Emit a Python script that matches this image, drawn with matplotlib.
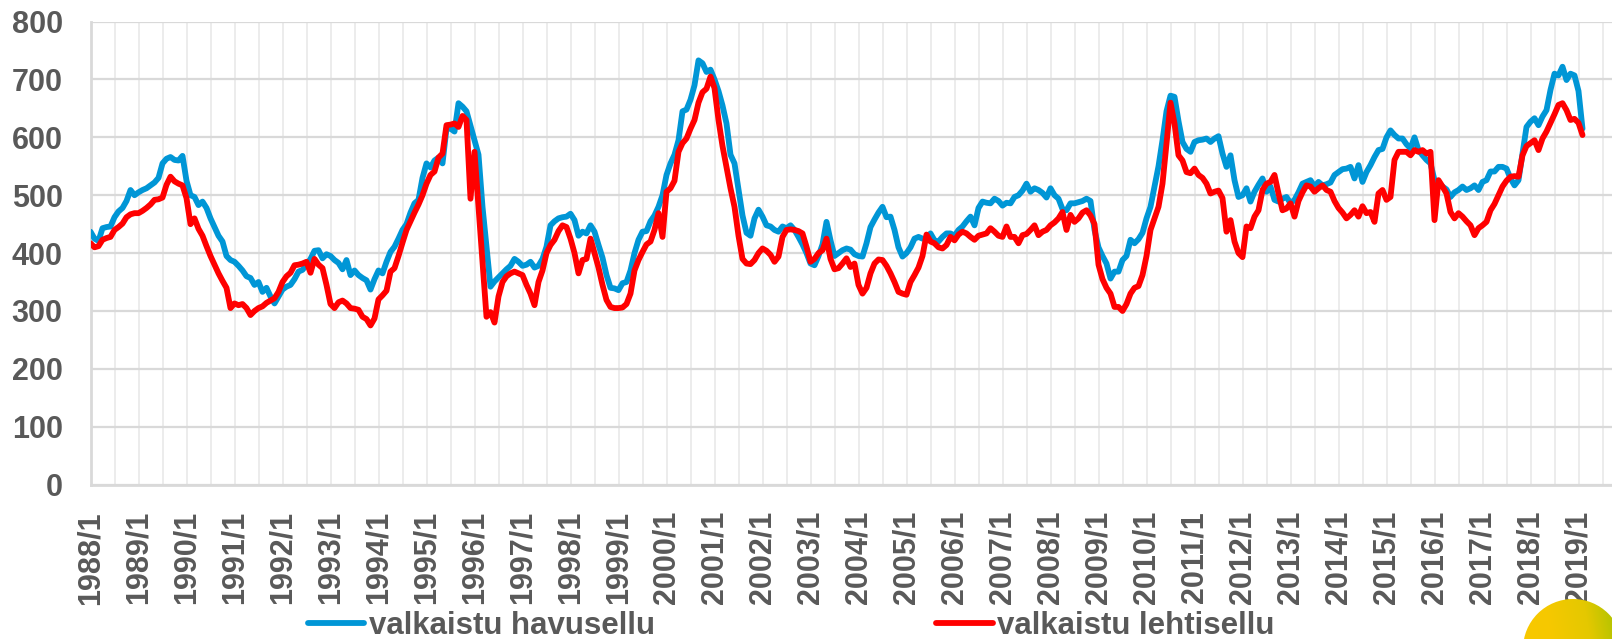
#!/usr/bin/env python3
"""Monthly pulp prices 1988-2019: bleached softwood vs. bleached hardwood."""

import matplotlib

matplotlib.use("Agg")
import matplotlib.pyplot as plt
import numpy as np
from matplotlib.colors import LinearSegmentedColormap
from matplotlib.lines import Line2D
from matplotlib.patches import Circle

# monthly values from 1988/1 onwards, one row per year
havusellu = [
    437, 425, 421, 443, 445, 446, 462, 472, 478, 490, 509, 500,  # 1988
    505, 509, 512, 517, 522, 530, 555, 563, 566, 561, 560, 568,  # 1989
    525, 500, 497, 483, 489, 478, 460, 445, 430, 420, 395, 388,  # 1990
    385, 378, 370, 360, 357, 345, 350, 333, 340, 325, 313, 325,  # 1991
    337, 342, 345, 355, 368, 371, 380, 390, 404, 405, 391, 398,  # 1992
    395, 388, 383, 372, 388, 362, 370, 362, 357, 353, 337, 355,  # 1993
    370, 365, 385, 402, 411, 425, 440, 450, 470, 486, 492, 530,  # 1994
    555, 548, 560, 565, 555, 615, 615, 610, 659, 653, 645, 620,  # 1995
    595, 570, 480, 411, 342, 351, 358, 365, 372, 378, 390, 385,  # 1996
    378, 380, 385, 375, 378, 390, 411, 448, 455, 460, 462, 463,  # 1997
    468, 457, 430, 437, 434, 448, 437, 414, 392, 362, 340, 339,  # 1998
    336, 348, 350, 370, 400, 423, 437, 438, 455, 465, 480, 500,  # 1999
    535, 555, 570, 595, 645, 648, 665, 690, 733, 728, 713, 717,  # 2000
    700, 680, 655, 624, 570, 555, 510, 465, 435, 430, 460, 475,  # 2001
    463, 448, 446, 440, 437, 446, 443, 448, 440, 428, 415, 400,  # 2002
    382, 379, 395, 415, 454, 422, 395, 400, 405, 408, 406, 398,  # 2003
    395, 394, 417, 445, 458, 470, 480, 462, 463, 440, 410, 394,  # 2004
    400, 410, 425, 428, 425, 425, 434, 422, 420, 428, 434, 434,  # 2005
    430, 440, 446, 455, 463, 448, 478, 489, 487, 486, 494, 490,  # 2006
    482, 487, 486, 497, 500, 508, 520, 506, 512, 509, 504, 496,  # 2007
    512, 500, 494, 476, 474, 486, 486, 488, 490, 494, 490, 440,  # 2008
    410, 395, 382, 356, 368, 368, 388, 395, 423, 417, 424, 435,  # 2009
    460, 480, 515, 550, 595, 645, 672, 670, 628, 592, 580, 575,  # 2010
    592, 595, 596, 598, 592, 598, 602, 572, 549, 569, 526, 497,  # 2011
    500, 512, 489, 506, 518, 529, 506, 515, 492, 489, 494, 497,  # 2012
    486, 492, 505, 520, 523, 526, 515, 523, 517, 519, 522, 535,  # 2013
    540, 545, 546, 549, 529, 552, 523, 540, 552, 566, 578, 580,  # 2014
    600, 612, 604, 598, 598, 588, 581, 600, 578, 569, 561, 555,  # 2015
    526, 523, 515, 510, 497, 505, 509, 515, 509, 512, 517, 509,  # 2016
    523, 526, 541, 541, 549, 549, 546, 529, 517, 526, 572, 618,  # 2017
    627, 633, 621, 636, 647, 682, 710, 707, 722, 699, 710, 707,  # 2018
    680, 615,                                                    # 2019
]

lehtisellu = [
    417, 410, 412, 423, 426, 428, 440, 445, 451, 462, 467, 469,  # 1988
    469, 473, 478, 484, 492, 493, 496, 518, 532, 524, 520, 517,  # 1989
    495, 450, 460, 442, 430, 412, 395, 380, 365, 352, 340, 305,  # 1990
    313, 310, 312, 305, 293, 300, 305, 308, 314, 318, 322, 333,  # 1991
    350, 360, 366, 379, 380, 382, 385, 366, 390, 380, 374, 345,  # 1992
    312, 305, 315, 318, 313, 305, 304, 302, 290, 286, 275, 287,  # 1993
    320, 327, 335, 368, 374, 395, 418, 440, 455, 470, 484, 500,  # 1994
    520, 535, 541, 565, 572, 621, 622, 624, 618, 637, 630, 494,  # 1995
    575, 480, 385, 290, 298, 280, 325, 350, 360, 365, 368, 365,  # 1996
    362, 345, 330, 310, 350, 370, 400, 414, 423, 438, 448, 445,  # 1997
    425, 400, 365, 388, 390, 425, 400, 375, 345, 319, 307, 305,  # 1998
    305, 306, 312, 330, 370, 388, 402, 415, 420, 440, 469, 428,  # 1999
    506, 512, 525, 575, 590, 598, 615, 630, 660, 678, 684, 705,  # 2000
    685, 630, 585, 549, 512, 480, 430, 390, 382, 381, 388, 400,  # 2001
    408, 404, 397, 385, 394, 428, 440, 441, 440, 438, 434, 411,  # 2002
    385, 390, 400, 405, 425, 390, 372, 374, 382, 391, 376, 382,  # 2003
    345, 330, 340, 365, 382, 389, 388, 378, 365, 350, 333, 330,  # 2004
    328, 350, 362, 375, 395, 432, 420, 417, 410, 408, 414, 428,  # 2005
    422, 432, 437, 434, 428, 423, 430, 432, 434, 443, 437, 430,  # 2006
    428, 446, 428, 428, 417, 431, 433, 440, 448, 431, 437, 440,  # 2007
    448, 453, 460, 471, 440, 466, 454, 460, 470, 474, 465, 450,  # 2008
    380, 355, 340, 330, 307, 307, 300, 312, 330, 340, 343, 362,  # 2009
    395, 440, 460, 480, 520, 589, 660, 624, 569, 560, 540, 538,  # 2010
    546, 535, 530, 520, 503, 506, 508, 495, 437, 457, 420, 400,  # 2011
    393, 446, 443, 463, 474, 509, 520, 523, 535, 503, 474, 477,  # 2012
    486, 463, 490, 505, 517, 515, 506, 512, 517, 509, 506, 490,  # 2013
    478, 470, 460, 466, 474, 463, 481, 469, 471, 454, 503, 509,  # 2014
    492, 497, 561, 575, 575, 575, 569, 578, 575, 578, 572, 575,  # 2015
    457, 526, 515, 503, 471, 460, 469, 463, 455, 448, 431, 443,  # 2016
    448, 454, 474, 485, 500, 515, 525, 532, 533, 532, 569, 585,  # 2017
    590, 595, 578, 598, 610, 625, 640, 656, 659, 647, 630, 632,  # 2018
    625, 604,                                                    # 2019
]

years = list(range(1988, 2020))
tick_labels = [f"{y}/1" for y in years]
y_ticks = [0, 100, 200, 300, 400, 500, 600, 700, 800]
series_names = ["valkaistu havusellu", "valkaistu lehtisellu"]

BLUE = "#0096D6"
RED = "#FF0000"
TEXT = "#595959"
GRID_H = "#D9D9D9"
GRID_V = "#EBEBEB"
LINE_W = 4.2

W, H = 1612, 639
X0, Y0, Y800 = 90.5, 484.6, 21.6   # pixel positions of 1988/1, 0 and 800
PX_MONTH = 4.0


def main() -> None:
    plt.rcParams["font.family"] = ["Liberation Sans", "DejaVu Sans"]
    fig = plt.figure(figsize=(W / 100, H / 100), dpi=100)
    ax = fig.add_axes([X0 / W, 1 - Y0 / H, 1 - X0 / W, (Y0 - Y800) / H])

    style = dict(lw=LINE_W, solid_joinstyle="round", solid_capstyle="round")
    ax.plot(np.arange(len(havusellu)), havusellu, color=BLUE, zorder=3, **style)
    ax.plot(np.arange(len(lehtisellu)), lehtisellu, color=RED, zorder=4, **style)

    ax.set_xlim(0, (W - X0) / PX_MONTH)
    ax.set_ylim(0, 800)
    ax.set_xticks(np.arange(len(years)) * 12)
    ax.set_xticklabels(tick_labels, rotation=90, fontsize=22, fontweight="bold", color=TEXT)
    ax.set_xticks(np.arange(6, 384, 12), minor=True)
    ax.set_yticks(y_ticks)
    ax.set_yticklabels([str(v) for v in y_ticks], fontsize=22, fontweight="bold", color=TEXT)
    ax.tick_params(axis="both", which="both", length=0)
    ax.tick_params(axis="x", pad=19)
    ax.tick_params(axis="y", pad=20)

    ax.grid(axis="x", which="both", color=GRID_V, lw=1.3, zorder=0)
    ax.grid(axis="y", color=GRID_H, lw=1.6, zorder=1)
    ax.set_axisbelow(True)
    for side in ("top", "right"):
        ax.spines[side].set_visible(False)
    for side in ("left", "bottom"):
        ax.spines[side].set_color(GRID_H)
        ax.spines[side].set_linewidth(2.0)

    handles = [
        Line2D([], [], color=BLUE, lw=LINE_W, solid_capstyle="round"),
        Line2D([], [], color=RED, lw=LINE_W, solid_capstyle="round"),
    ]
    fig.legend(
        handles,
        series_names,
        loc="center",
        bbox_to_anchor=(0.491, 0.02),
        ncol=2,
        frameon=False,
        prop={"family": "Liberation Sans", "weight": "bold", "size": 22.5},
        labelcolor=TEXT,
        handlelength=1.8,
        handletextpad=0.15,
        columnspacing=9.0,
        borderpad=0,
    )

    draw_sun(fig)
    fig.savefig("out.png", dpi=100)


def draw_sun(fig: plt.Figure) -> None:
    # yellow-green logo disc peeking in at the lower right corner
    cx, cy, r = 1573, 649, 50
    deco = fig.add_axes([(cx - r) / W, 1 - (cy + r) / H, 2 * r / W, 2 * r / H])
    deco.set_axis_off()
    g = np.linspace(0, 1, 200)
    gx, gy = np.meshgrid(g, g)
    cmap = LinearSegmentedColormap.from_list(
        "sun", ["#F9C800", "#F6C900", "#E4C800", "#A0C200"]
    )
    img = deco.imshow(0.85 * gx + 0.15 * gy, cmap=cmap, extent=(0, 1, 0, 1), origin="lower")
    img.set_clip_path(Circle((0.5, 0.5), 0.5, transform=deco.transAxes))


if __name__ == "__main__":
    main()
